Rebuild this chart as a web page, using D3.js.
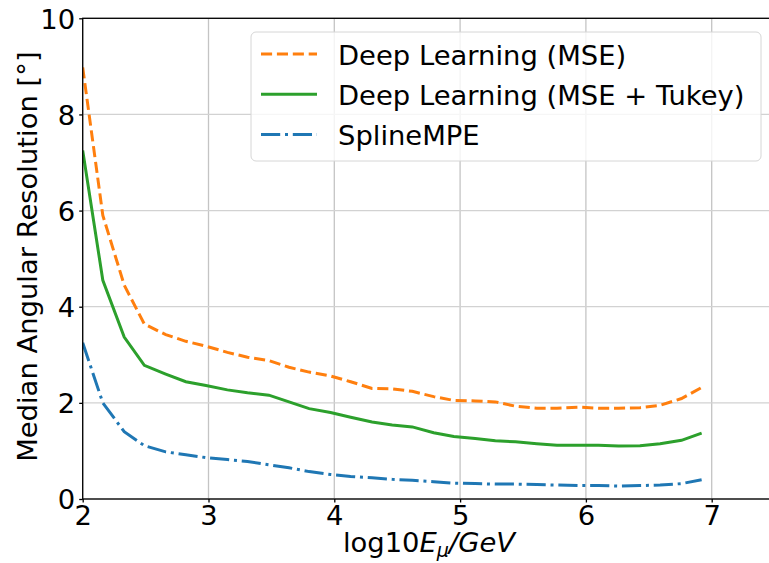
<!DOCTYPE html>
<html>
<head>
<meta charset="utf-8">
<script src="https://cdn.jsdelivr.net/npm/d3@7"></script>
<style>
  html, body { margin: 0; padding: 0; background: #fff; }
  svg { display: block; overflow: hidden; }
  text { font-family: "DejaVu Sans", sans-serif; fill: #000; }
</style>
</head>
<body>
<div id="chart"></div>
<script>
// energy bins (log10 E / GeV)
const logEnergy = [2.0, 2.16, 2.33, 2.49, 2.66, 2.82, 2.98, 3.15, 3.31, 3.48,
  3.64, 3.80, 3.97, 4.13, 4.30, 4.46, 4.62, 4.79, 4.95, 5.12,
  5.28, 5.44, 5.61, 5.77, 5.94, 6.10, 6.26, 6.43, 6.59, 6.76, 6.92];

const mseValues = [8.98, 5.9, 4.45, 3.64, 3.42, 3.28, 3.18, 3.05, 2.95, 2.88,
  2.74, 2.64, 2.56, 2.44, 2.30, 2.29, 2.24, 2.13, 2.05, 2.04,
  2.02, 1.93, 1.89, 1.89, 1.91, 1.89, 1.89, 1.90, 1.95, 2.09, 2.32];

const tukeyValues = [7.25, 4.55, 3.37, 2.78, 2.60, 2.44, 2.36, 2.27, 2.21, 2.16,
  2.02, 1.88, 1.80, 1.70, 1.60, 1.54, 1.50, 1.38, 1.30, 1.26,
  1.21, 1.19, 1.15, 1.12, 1.12, 1.12, 1.10, 1.11, 1.15, 1.22, 1.37];

const splineValues = [3.25, 2.0, 1.40, 1.11, 0.98, 0.92, 0.86, 0.82, 0.78, 0.71,
  0.65, 0.57, 0.51, 0.47, 0.44, 0.41, 0.39, 0.36, 0.33, 0.32,
  0.31, 0.31, 0.30, 0.29, 0.28, 0.28, 0.27, 0.28, 0.29, 0.32, 0.40];

const xTicks = [2, 3, 4, 5, 6, 7];
const yTicks = [0, 2, 4, 6, 8, 10];

const seriesNames = ["Deep Learning (MSE)", "Deep Learning (MSE + Tukey)", "SplineMPE"];

const lw = 3;
const series = [
  { name: seriesNames[0], values: mseValues, color: "#ff7f0e", dash: `${3.7 * lw},${1.6 * lw}` },
  { name: seriesNames[1], values: tukeyValues, color: "#2ca02c", dash: null },
  { name: seriesNames[2], values: splineValues, color: "#1f77b4", dash: `${6.4 * lw},${1.6 * lw},${1 * lw},${1.6 * lw}` }
];

const W = 769, H = 563;
const plot = { left: 82.7, top: 18.3, right: 774.6, bottom: 499 };
const fontSize = 27.4;

const svg = d3.select("#chart").append("svg")
  .attr("width", W)
  .attr("height", H);

const x = d3.scaleLinear().domain([2, 7.5]).range([plot.left, plot.right]);
const y = d3.scaleLinear().domain([0, 10]).range([plot.bottom, plot.top]);

// clip for lines
svg.append("clipPath").attr("id", "clip")
  .append("rect")
  .attr("x", plot.left).attr("y", plot.top)
  .attr("width", plot.right - plot.left).attr("height", plot.bottom - plot.top);

// Grid
svg.append("g")
  .selectAll("line")
  .data(xTicks)
  .join("line")
  .attr("x1", d => x(d)).attr("x2", d => x(d))
  .attr("y1", plot.top).attr("y2", plot.bottom)
  .attr("stroke", "#c4c4c4")
  .attr("stroke-width", 1.3);

svg.append("g")
  .selectAll("line")
  .data(yTicks)
  .join("line")
  .attr("x1", plot.left).attr("x2", plot.right)
  .attr("y1", d => y(d)).attr("y2", d => y(d))
  .attr("stroke", "#d2d2d2")
  .attr("stroke-width", 1.3);

// Lines
const line = d3.line()
  .x((d, i) => x(logEnergy[i]))
  .y(d => y(d));

const lines = svg.append("g").attr("clip-path", "url(#clip)");
series.forEach(s => {
  lines.append("path")
    .datum(s.values)
    .attr("fill", "none")
    .attr("stroke", s.color)
    .attr("stroke-width", lw)
    .attr("stroke-dasharray", s.dash)
    .attr("d", line);
});

// Axes
const xAxis = svg.append("g")
  .attr("transform", `translate(0,${plot.bottom})`)
  .call(d3.axisBottom(x).tickValues(xTicks).tickSize(3.5).tickPadding(3).tickFormat(d3.format("d")));

const yAxis = svg.append("g")
  .attr("transform", `translate(${plot.left},0)`)
  .call(d3.axisLeft(y).tickValues(yTicks).tickSize(3.5).tickPadding(4).tickFormat(d3.format("d")));

[xAxis, yAxis].forEach(a => {
  a.select(".domain").remove();
  a.selectAll(".tick line").attr("stroke", "#000").attr("stroke-width", 1.3);
  a.selectAll(".tick text")
    .attr("font-family", "DejaVu Sans")
    .attr("font-size", fontSize)
    .attr("fill", "#000");
});
yAxis.selectAll(".tick text").attr("dy", "0.36em");
xAxis.selectAll(".tick text").attr("dy", "0.72em");

// Spines
const spine = svg.append("g")
  .attr("fill", "none")
  .attr("stroke", "#000")
  .attr("stroke-width", 1.3);
spine.append("rect")
  .attr("x", plot.left).attr("y", plot.top)
  .attr("width", plot.right - plot.left).attr("height", plot.bottom - plot.top);

// Axis labels
const xl = svg.append("text")
  .attr("x", 429)
  .attr("y", 552)
  .attr("text-anchor", "middle")
  .attr("font-size", fontSize);
xl.append("tspan").text("log10");
xl.append("tspan").attr("font-style", "italic").text("E");
xl.append("tspan").attr("font-style", "italic").attr("font-size", fontSize * 0.7).attr("dy", 5).text("μ");
xl.append("tspan").attr("font-style", "italic").attr("dy", -5).text("/GeV");

svg.append("text")
  .attr("transform", `translate(37,${(plot.top + plot.bottom) / 2 - 2}) rotate(-90)`)
  .attr("text-anchor", "middle")
  .attr("font-size", fontSize)
  .text("Median Angular Resolution [°]");

// Legend
const legend = svg.append("g");
legend.append("rect")
  .attr("x", 251).attr("y", 32)
  .attr("width", 510).attr("height", 129)
  .attr("rx", 5)
  .attr("fill", "#fff")
  .attr("fill-opacity", 0.8)
  .attr("stroke", "#d6d6d6")
  .attr("stroke-width", 1);

const rows = legend.selectAll("g.row")
  .data(series)
  .join("g")
  .attr("class", "row")
  .attr("transform", (d, i) => `translate(0,${54 + i * 40.2})`);

rows.append("line")
  .attr("x1", 261).attr("x2", 317)
  .attr("stroke", d => d.color)
  .attr("stroke-width", lw)
  .attr("stroke-dasharray", d => d.dash);

rows.append("text")
  .attr("x", 338)
  .attr("y", 11)
  .attr("font-size", fontSize)
  .text(d => d.name);
</script>
</body>
</html>
